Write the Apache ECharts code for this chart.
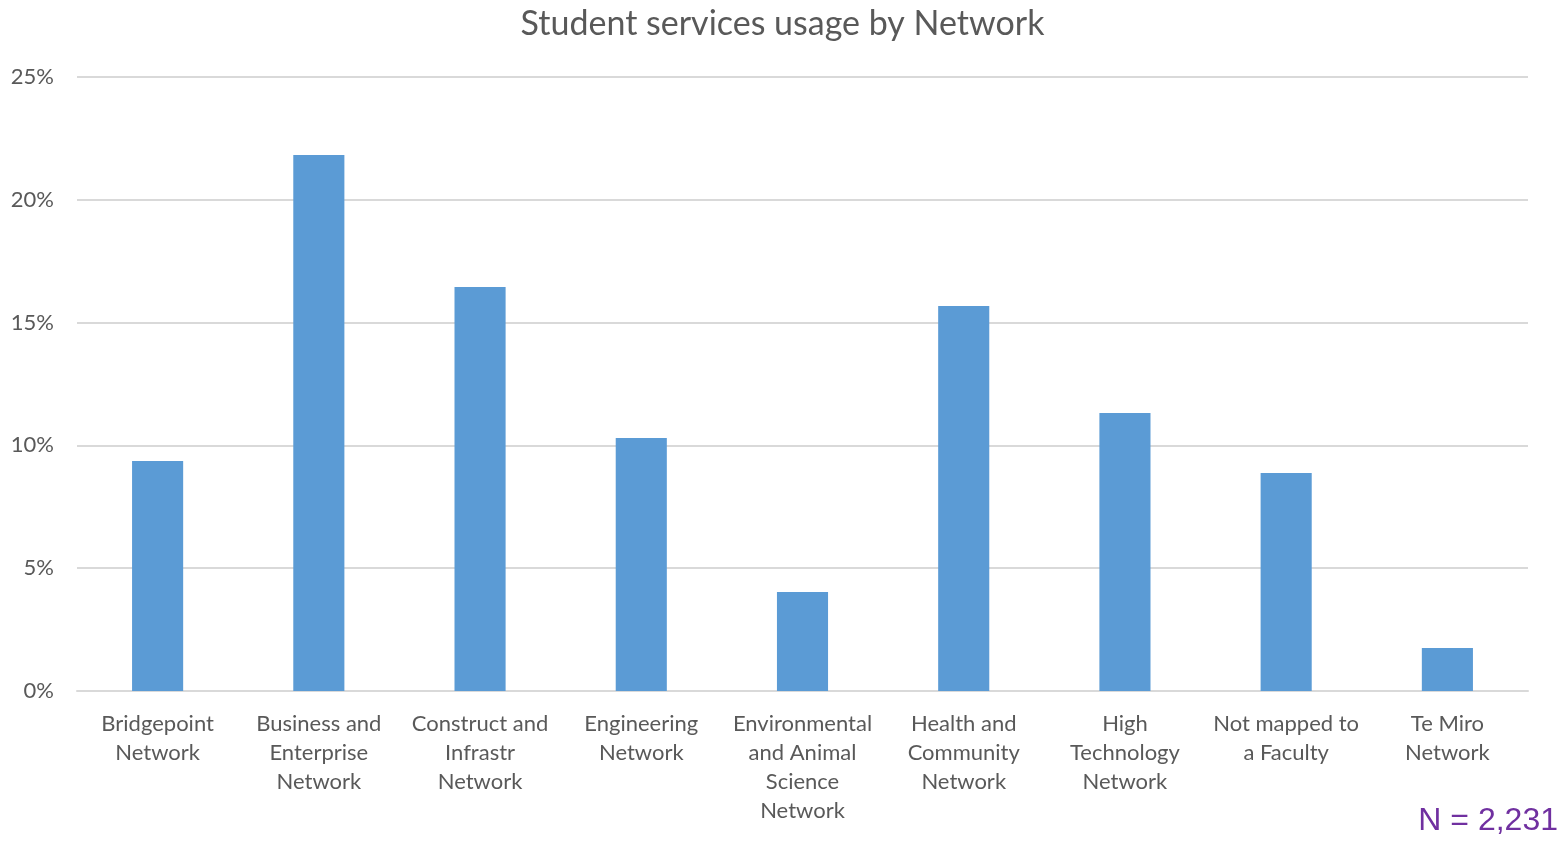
<!DOCTYPE html>
<html>
<head>
<meta charset="utf-8">
<title>Student services usage by Network</title>
<script src="https://cdn.jsdelivr.net/npm/echarts@6/dist/echarts.min.js"></script>
<style>
  html, body { margin: 0; padding: 0; background: #fff; }
  #chart { width: 1565px; height: 844px; }
</style>
</head>
<body>
<div id="chart"></div>
<script>
// Networks shown along the x axis (line breaks as displayed)
const categories = [
  'Bridgepoint\nNetwork',
  'Business and\nEnterprise\nNetwork',
  'Construct and\nInfrastr\nNetwork',
  'Engineering\nNetwork',
  'Environmental\nand Animal\nScience\nNetwork',
  'Health and\nCommunity\nNetwork',
  'High\nTechnology\nNetwork',
  'Not mapped to\na Faculty',
  'Te Miro\nNetwork'
];

// Share of student services usage, in percent
const usage = [9.36, 21.82, 16.45, 10.30, 4.03, 15.68, 11.32, 8.88, 1.75];

// Y axis range and step, in percent
const yMin = 0;
const yMax = 25;
const yStep = 5;

const sampleSize = 'N = 2,231';

const font = 'Lato, "Open Sans", "Noto Sans", sans-serif';
const textColor = '#595959';

const chart = echarts.init(document.getElementById('chart'));
chart.setOption({
  animation: false,
  title: {
    text: 'Student services usage by Network',
    left: 'center',
    top: 2,
    textStyle: { fontFamily: font, fontSize: 34, fontWeight: 'normal', color: textColor }
  },
  graphic: [{
    type: 'text',
    right: 7,
    top: 805,
    style: {
      text: sampleSize,
      font: '32px "Liberation Sans", Arial, sans-serif',
      fill: '#7030A0'
    }
  }],
  grid: { left: 77, right: 37, top: 77, bottom: 153, containLabel: false },
  xAxis: {
    type: 'category',
    data: categories,
    axisLine: { show: true, lineStyle: { color: '#d9d9d9', width: 2 } },
    axisTick: { show: false },
    axisLabel: {
      interval: 0,
      margin: 18,
      fontFamily: font,
      fontSize: 22,
      lineHeight: 29,
      color: textColor
    }
  },
  yAxis: {
    type: 'value',
    min: yMin,
    max: yMax,
    interval: yStep,
    axisLine: { show: false },
    axisTick: { show: false },
    splitLine: { lineStyle: { color: '#d9d9d9', width: 2 } },
    axisLabel: {
      margin: 23,
      fontFamily: font,
      fontSize: 22,
      color: textColor,
      formatter: v => v + '%'
    }
  },
  series: [{
    type: 'bar',
    data: usage,
    barWidth: '31.7%',
    itemStyle: { color: '#5b9bd5' }
  }]
});
</script>
</body>
</html>
